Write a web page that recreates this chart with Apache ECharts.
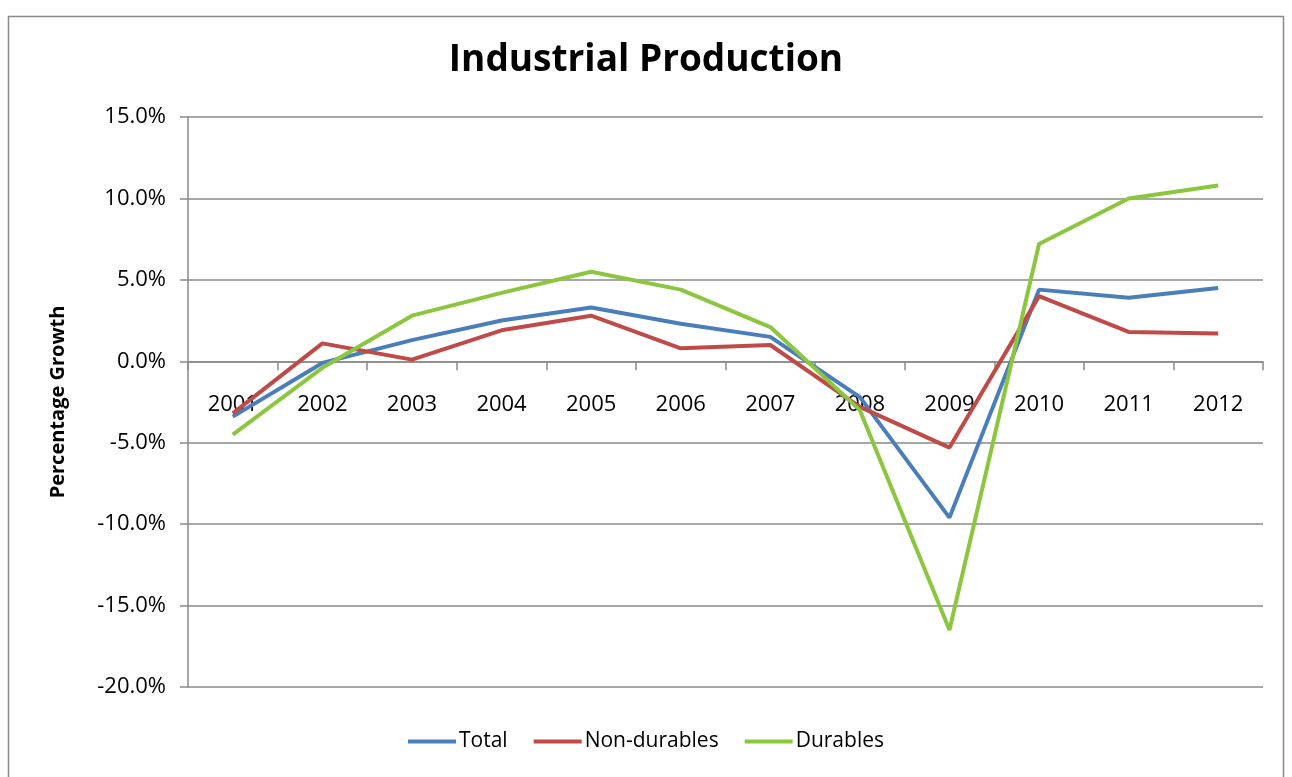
<!DOCTYPE html>
<html>
<head>
<meta charset="utf-8">
<script src="https://cdn.jsdelivr.net/npm/echarts@6/dist/echarts.min.js"></script>
<style>
html,body{margin:0;padding:0;background:#fff;}
#c{width:1292px;height:777px;}
</style>
</head>
<body>
<div id="c"></div>
<script>
var categories = ['2001','2002','2003','2004','2005','2006','2007','2008','2009','2010','2011','2012'];
var totalValues = [-3.4, -0.1, 1.3, 2.5, 3.3, 2.3, 1.5, -2.2, -9.6, 4.4, 3.9, 4.5];
var nonDurableValues = [-3.2, 1.1, 0.1, 1.9, 2.8, 0.8, 1.0, -2.8, -5.3, 4.0, 1.8, 1.7];
var durableValues = [-4.5, -0.4, 2.8, 4.2, 5.5, 4.4, 2.1, -3.0, -16.5, 7.2, 10.0, 10.8];
var seriesNames = ['Total', 'Non-durables', 'Durables'];
var yTicks = {min: -20, max: 15, interval: 5};

var FONT = "'Open Sans', 'Liberation Sans', sans-serif";
var GRID_TOP = 117, GRID_BOTTOM_PX = 687;
// distance from grid bottom to the zero line, derived from the value range
var zeroOffset = (GRID_BOTTOM_PX - GRID_TOP) * (0 - yTicks.min) / (yTicks.max - yTicks.min);

var chart = echarts.init(document.getElementById('c'));
function mk(name, data, color) {
  return {
    name: name, type: 'line', data: data, symbol: 'none',
    lineStyle: {width: 4, color: color}, itemStyle: {color: color},
    emphasis: {disabled: true}, animation: false
  };
}
chart.setOption({
  animation: false,
  backgroundColor: '#fff',
  graphic: [{
    type: 'rect', shape: {x: 8.5, y: 16.5, width: 1275, height: 780},
    style: {fill: 'none', stroke: '#8a8a8a', lineWidth: 1.5}, silent: true, z: -1
  }],
  title: {
    text: 'Industrial Production', left: 'center', top: 37,
    textStyle: {fontFamily: FONT, fontWeight: 'bold', fontSize: 37, color: '#000'}
  },
  legend: {
    data: seriesNames, bottom: 20, left: 'center',
    icon: 'rect', itemWidth: 48, itemHeight: 4, itemGap: 26,
    textStyle: {fontFamily: FONT, fontSize: 21, color: '#000', padding: [0,0,0,-2]}
  },
  grid: {left: 188, right: 29, top: GRID_TOP, bottom: 777 - GRID_BOTTOM_PX},
  xAxis: {
    type: 'category', data: categories, boundaryGap: true,
    position: 'bottom', offset: -zeroOffset,
    axisLine: {onZero: false, lineStyle: {color: '#8a8a8a', width: 1.5}},
    axisTick: {show: true, alignWithLabel: false, length: 9, lineStyle: {color: '#8a8a8a', width: 1.5}},
    axisLabel: {fontFamily: FONT, fontSize: 22, color: '#000', margin: 32},
    splitLine: {show: false}
  },
  yAxis: {
    type: 'value', min: yTicks.min, max: yTicks.max, interval: yTicks.interval,
    name: 'Percentage Growth', nameLocation: 'middle', nameGap: 120, nameRotate: 90,
    nameTextStyle: {fontFamily: FONT, fontWeight: 'bold', fontSize: 20, color: '#000'},
    axisLine: {show: true, lineStyle: {color: '#8a8a8a', width: 1.5}},
    axisTick: {show: true, length: 8, lineStyle: {color: '#8a8a8a', width: 1.5}},
    axisLabel: {fontFamily: FONT, fontSize: 22, color: '#000', margin: 22,
      formatter: function (v) { return v.toFixed(1) + '%'; }},
    splitLine: {show: true, lineStyle: {color: '#8a8a8a', width: 1.5}}
  },
  series: [
    mk(seriesNames[0], totalValues, '#4a7ebb'),
    mk(seriesNames[1], nonDurableValues, '#be4b48'),
    mk(seriesNames[2], durableValues, '#8cc63f')
  ]
});
</script>
</body>
</html>
